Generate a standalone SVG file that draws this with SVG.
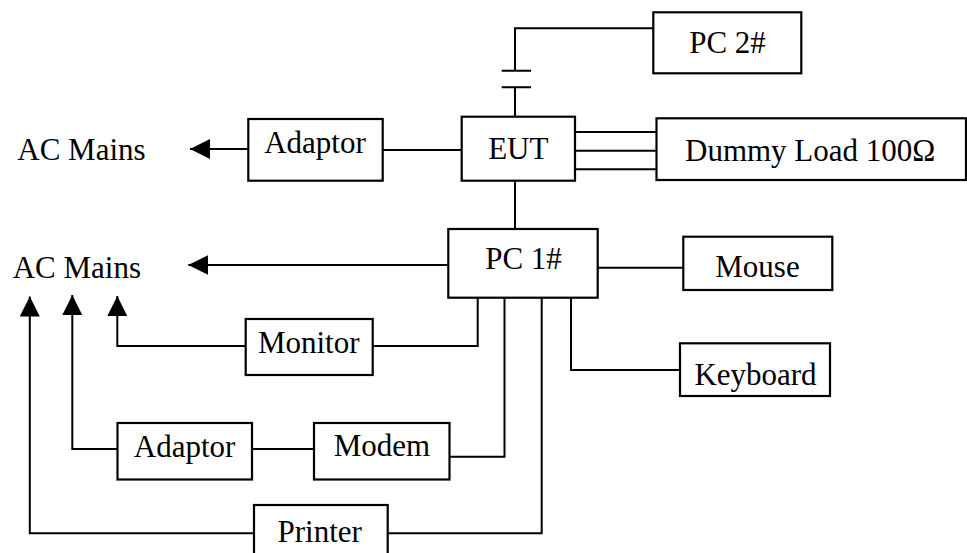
<svg xmlns="http://www.w3.org/2000/svg" width="967" height="553" viewBox="0 0 967 553">
<style>
.box{fill:#fff;stroke:#000;stroke-width:2.2}
.ln{fill:none;stroke:#000;stroke-width:2}
.t{font-family:"Liberation Serif","Times New Roman",serif;font-size:31px;fill:#000}
.c{text-anchor:middle}
</style>
<defs>
<marker id="arr" viewBox="0 0 20 20" refX="20" refY="10" markerWidth="20" markerHeight="20" markerUnits="userSpaceOnUse" orient="auto">
<path d="M0,0 L20,10 L0,20 z" fill="#000"/>
</marker>
</defs>
<rect width="967" height="553" fill="#fff"/>
<g id="connectors">
<path class="ln" d="M653.3,28.3 H515 V70.7"/>
<path class="ln" d="M501.7,70.7 H531 M501.7,87.3 H531"/>
<path class="ln" d="M515,87.3 V116.7"/>
<path class="ln" d="M248.3,149 H190" marker-end="url(#arr)"/>
<path class="ln" d="M382.7,150 H461.7"/>
<path class="ln" d="M575,132 H656.5 M575,150.7 H656.5 M575,169.3 H656.5"/>
<path class="ln" d="M515,180.7 V229"/>
<path class="ln" d="M448.3,265 H188.3" marker-end="url(#arr)"/>
<path class="ln" d="M597.7,267.7 H683.3"/>
<path class="ln" d="M477.7,297.7 V346 H372.7"/>
<path class="ln" d="M245.7,346 H117.3 V296" marker-end="url(#arr)"/>
<path class="ln" d="M571,297.7 V370 H680"/>
<path class="ln" d="M504.5,297.7 V456.7 H449.5"/>
<path class="ln" d="M314,449 H252"/>
<path class="ln" d="M117.5,449 H72.3 V295" marker-end="url(#arr)"/>
<path class="ln" d="M541.7,297.7 V533.3 H387.7"/>
<path class="ln" d="M254,533.3 H29.8 V296.5" marker-end="url(#arr)"/>
</g>
<g id="pc2"><rect class="box" x="653.3" y="12.3" width="148" height="61"/><text class="t c" x="727.5" y="53.3">PC 2#</text></g>
<g id="ac1"><text class="t" x="17.3" y="160">AC Mains</text></g>
<g id="adaptor1"><rect class="box" x="248.3" y="119" width="134.4" height="61.7"/><text class="t c" x="315" y="152.7">Adaptor</text></g>
<g id="eut"><rect class="box" x="461.7" y="116.7" width="113.3" height="64"/><text class="t c" x="518.3" y="159.3">EUT</text></g>
<g id="dummy"><rect class="box" x="656.5" y="118.3" width="309.5" height="61.7"/><text class="t" x="685" y="161">Dummy Load 100Ω</text></g>
<g id="ac2"><text class="t" x="12.7" y="278.3">AC Mains</text></g>
<g id="pc1"><rect class="box" x="448.3" y="229" width="149.4" height="68.7"/><text class="t c" x="523.5" y="269.3">PC 1#</text></g>
<g id="mouse"><rect class="box" x="683.3" y="236.7" width="149" height="53.3"/><text class="t c" x="757.5" y="276.7">Mouse</text></g>
<g id="monitor"><rect class="box" x="245.7" y="319" width="127" height="56"/><text class="t c" x="308.7" y="353.3">Monitor</text></g>
<g id="keyboard"><rect class="box" x="680" y="343.3" width="150" height="52.7"/><text class="t c" x="755.5" y="385">Keyboard</text></g>
<g id="adaptor2"><rect class="box" x="117.5" y="423" width="134.5" height="56.5"/><text class="t c" x="184.6" y="456.7">Adaptor</text></g>
<g id="modem"><rect class="box" x="314" y="423" width="135.5" height="56.5"/><text class="t c" x="382" y="456">Modem</text></g>
<g id="printer"><rect class="box" x="254" y="505" width="133.7" height="60"/><text class="t c" x="319.7" y="541.7">Printer</text></g>
</svg>
